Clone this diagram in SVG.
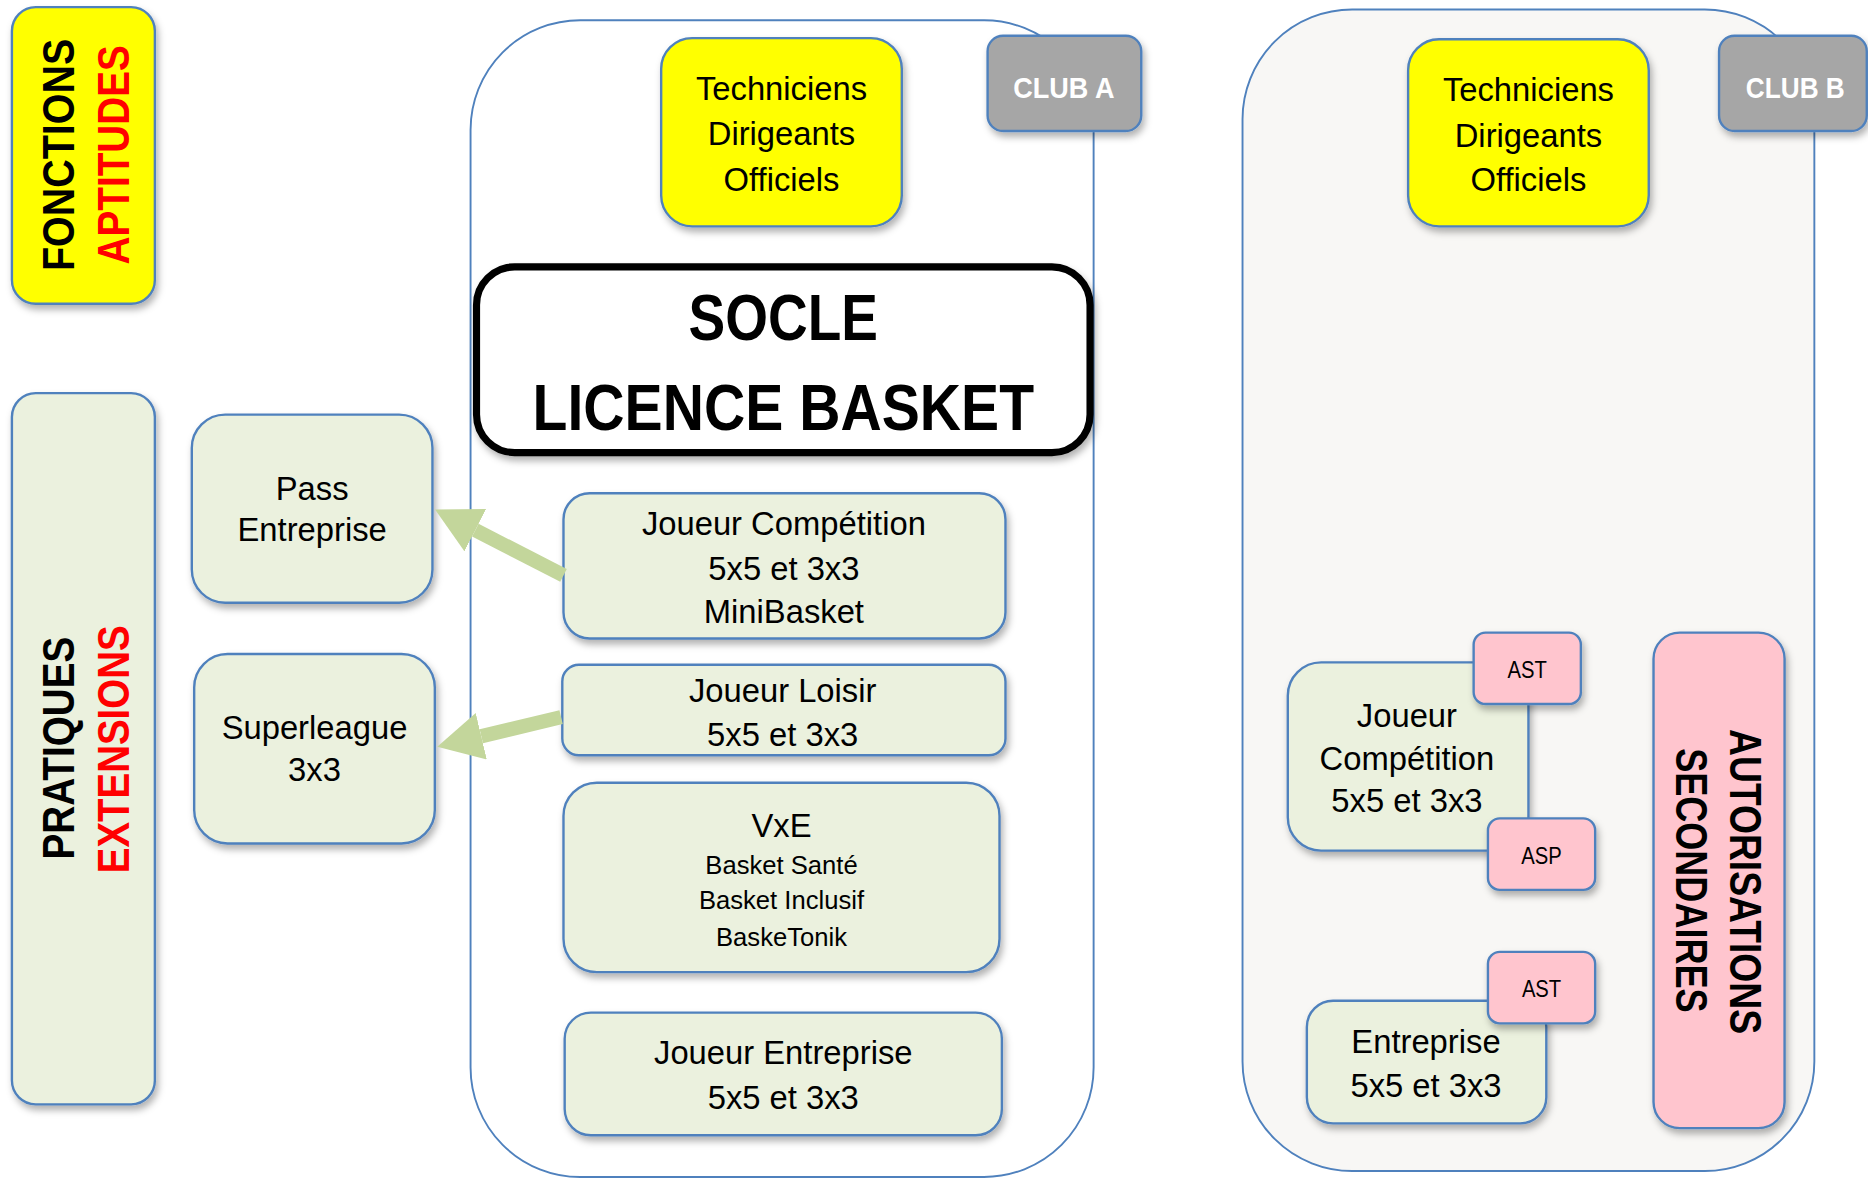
<svg xmlns="http://www.w3.org/2000/svg" width="1868" height="1179" viewBox="0 0 1868 1179">
<style>
.box{stroke:#4F81BD;stroke-width:2;filter:url(#sh)}
.yel{fill:#FFFF00}
.grn{fill:#EBF1DE}
.gry{fill:#A6A6A6}
.pnk{fill:#FFC5CE}
.cont{stroke:#4F81BD;stroke-width:1.6}
.t{font-family:"Liberation Sans",Arial,sans-serif;font-size:27.5px;fill:#000;text-anchor:middle}
.s{font-size:21.5px}
.tag{font-size:20px}
.b{font-family:"Liberation Sans",Arial,sans-serif;font-weight:bold;text-anchor:middle}
.v{font-size:37px}
.red{fill:#FF0000}
.wht{fill:#FFFFFF;font-size:25px}
.arrow{stroke:#C3D69B;stroke-width:12;fill:none}
</style>
<defs>
<filter id="sh" x="-20%" y="-20%" width="140%" height="140%">
<feDropShadow dx="2" dy="4" stdDeviation="3" flood-color="#000" flood-opacity="0.3"/>
</filter>
<marker id="head" viewBox="0 0 38 40" refX="0" refY="20" markerWidth="38" markerHeight="40" markerUnits="userSpaceOnUse" orient="auto">
<path d="M0,0 L38,20 L0,40 Z" fill="#C3D69B"/>
</marker>
</defs>
<rect width="1868" height="1179" fill="#FFFFFF"/>
<g transform="scale(1.1913)">
<g id="fonctions-aptitudes">
<rect class="box yel" x="10" y="6" width="120" height="249" rx="20"/>
<text class="b v" transform="translate(62,130) rotate(-90)" textLength="195" lengthAdjust="spacingAndGlyphs">FONCTIONS</text>
<text class="b v red" transform="translate(108,130) rotate(-90)" textLength="184" lengthAdjust="spacingAndGlyphs">APTITUDES</text>
</g>
<g id="pratiques-extensions">
<rect class="box grn" x="10" y="330" width="120" height="597" rx="20"/>
<text class="b v" transform="translate(62,628) rotate(-90)" textLength="187" lengthAdjust="spacingAndGlyphs">PRATIQUES</text>
<text class="b v red" transform="translate(108,629) rotate(-90)" textLength="208" lengthAdjust="spacingAndGlyphs">EXTENSIONS</text>
</g>
<g id="club-a-container">
<rect class="cont" x="395" y="17" width="523" height="971" rx="92" fill="#FFFFFF"/>
</g>
<g id="club-a">
<rect class="box gry" x="829" y="30" width="129" height="80" rx="13"/>
<text class="b wht" x="893" y="82" textLength="85" lengthAdjust="spacingAndGlyphs">CLUB A</text>
</g>
<g id="fonctions-a">
<rect class="box yel" x="555" y="32" width="202" height="158" rx="26"/>
<text class="t" x="656" y="84">Techniciens</text>
<text class="t" x="656" y="122">Dirigeants</text>
<text class="t" x="656" y="160">Officiels</text>
</g>
<g id="socle">
<rect x="400" y="224" width="515" height="156" rx="32" fill="#FFFFFF" stroke="#000" stroke-width="6" filter="url(#sh)"/>
<text class="b" x="657.5" y="285" font-size="54" textLength="159" lengthAdjust="spacingAndGlyphs">SOCLE</text>
<text class="b" x="657.5" y="361" font-size="54" textLength="421" lengthAdjust="spacingAndGlyphs">LICENCE BASKET</text>
</g>
<g id="joueur-competition-a">
<rect class="box grn" x="473" y="414" width="371" height="122" rx="22"/>
<text class="t" x="658" y="449">Joueur Compétition</text>
<text class="t" x="658" y="487">5x5 et 3x3</text>
<text class="t" x="658" y="523">MiniBasket</text>
</g>
<g id="joueur-loisir">
<rect class="box grn" x="472" y="558" width="372" height="76" rx="14"/>
<text class="t" x="657" y="589">Joueur Loisir</text>
<text class="t" x="657" y="626">5x5 et 3x3</text>
</g>
<g id="vxe">
<rect class="box grn" x="473" y="657" width="366" height="159" rx="28"/>
<text class="t" x="656" y="703" font-size="27">VxE</text>
<text class="t s" x="656" y="734">Basket Santé</text>
<text class="t s" x="656" y="763">Basket Inclusif</text>
<text class="t s" x="656" y="794">BaskeTonik</text>
</g>
<g id="joueur-entreprise">
<rect class="box grn" x="474" y="850" width="367" height="103" rx="22"/>
<text class="t" x="657.5" y="893">Joueur Entreprise</text>
<text class="t" x="657.5" y="931">5x5 et 3x3</text>
</g>
<g id="pass-entreprise">
<rect class="box grn" x="161" y="348" width="202" height="158" rx="28"/>
<text class="t" x="262" y="420" font-size="26">Pass</text>
<text class="t" x="262" y="454" font-size="26">Entreprise</text>
</g>
<g id="superleague">
<rect class="box grn" x="163" y="549" width="202" height="159" rx="28"/>
<text class="t" x="264" y="620" font-size="26">Superleague</text>
<text class="t" x="264" y="656" font-size="26">3x3</text>
</g>
<g id="connectors">
<line class="arrow" x1="473" y1="483" x2="399" y2="445" marker-end="url(#head)"/>
<line class="arrow" x1="471" y1="602" x2="404" y2="618" marker-end="url(#head)"/>
</g>
<g id="club-b-container">
<rect class="cont" x="1043" y="8" width="480" height="975" rx="92" fill="#F8F7F5"/>
</g>
<g id="club-b">
<rect class="box gry" x="1443" y="30" width="124" height="80" rx="13"/>
<text class="b wht" x="1507" y="82" textLength="83" lengthAdjust="spacingAndGlyphs">CLUB B</text>
</g>
<g id="fonctions-b">
<rect class="box yel" x="1182" y="33" width="202" height="157" rx="26"/>
<text class="t" x="1283" y="85">Techniciens</text>
<text class="t" x="1283" y="123">Dirigeants</text>
<text class="t" x="1283" y="160">Officiels</text>
</g>
<g id="joueur-competition-b">
<rect class="box grn" x="1081" y="556" width="202" height="158" rx="28"/>
<text class="t" x="1181" y="610">Joueur</text>
<text class="t" x="1181" y="646">Compétition</text>
<text class="t" x="1181" y="682">5x5 et 3x3</text>
</g>
<g id="ast-1">
<rect class="box pnk" x="1237" y="531" width="90" height="60" rx="10"/>
<text class="t tag" x="1282" y="569" textLength="33" lengthAdjust="spacingAndGlyphs">AST</text>
</g>
<g id="asp">
<rect class="box pnk" x="1249" y="687" width="90" height="60" rx="10"/>
<text class="t tag" x="1294" y="725" textLength="34" lengthAdjust="spacingAndGlyphs">ASP</text>
</g>
<g id="entreprise-b">
<rect class="box grn" x="1097" y="840" width="201" height="103" rx="22"/>
<text class="t" x="1197" y="884">Entreprise</text>
<text class="t" x="1197" y="921">5x5 et 3x3</text>
</g>
<g id="ast-2">
<rect class="box pnk" x="1249" y="799" width="90" height="60" rx="10"/>
<text class="t tag" x="1294" y="837" textLength="33" lengthAdjust="spacingAndGlyphs">AST</text>
</g>
<g id="autorisations-secondaires">
<rect class="box pnk" x="1388" y="531" width="110" height="416" rx="22"/>
<text class="b v" transform="translate(1452,740) rotate(90)" textLength="256" lengthAdjust="spacingAndGlyphs">AUTORISATIONS</text>
<text class="b v" transform="translate(1407,739) rotate(90)" textLength="222" lengthAdjust="spacingAndGlyphs">SECONDAIRES</text>
</g>
</g>
</svg>
